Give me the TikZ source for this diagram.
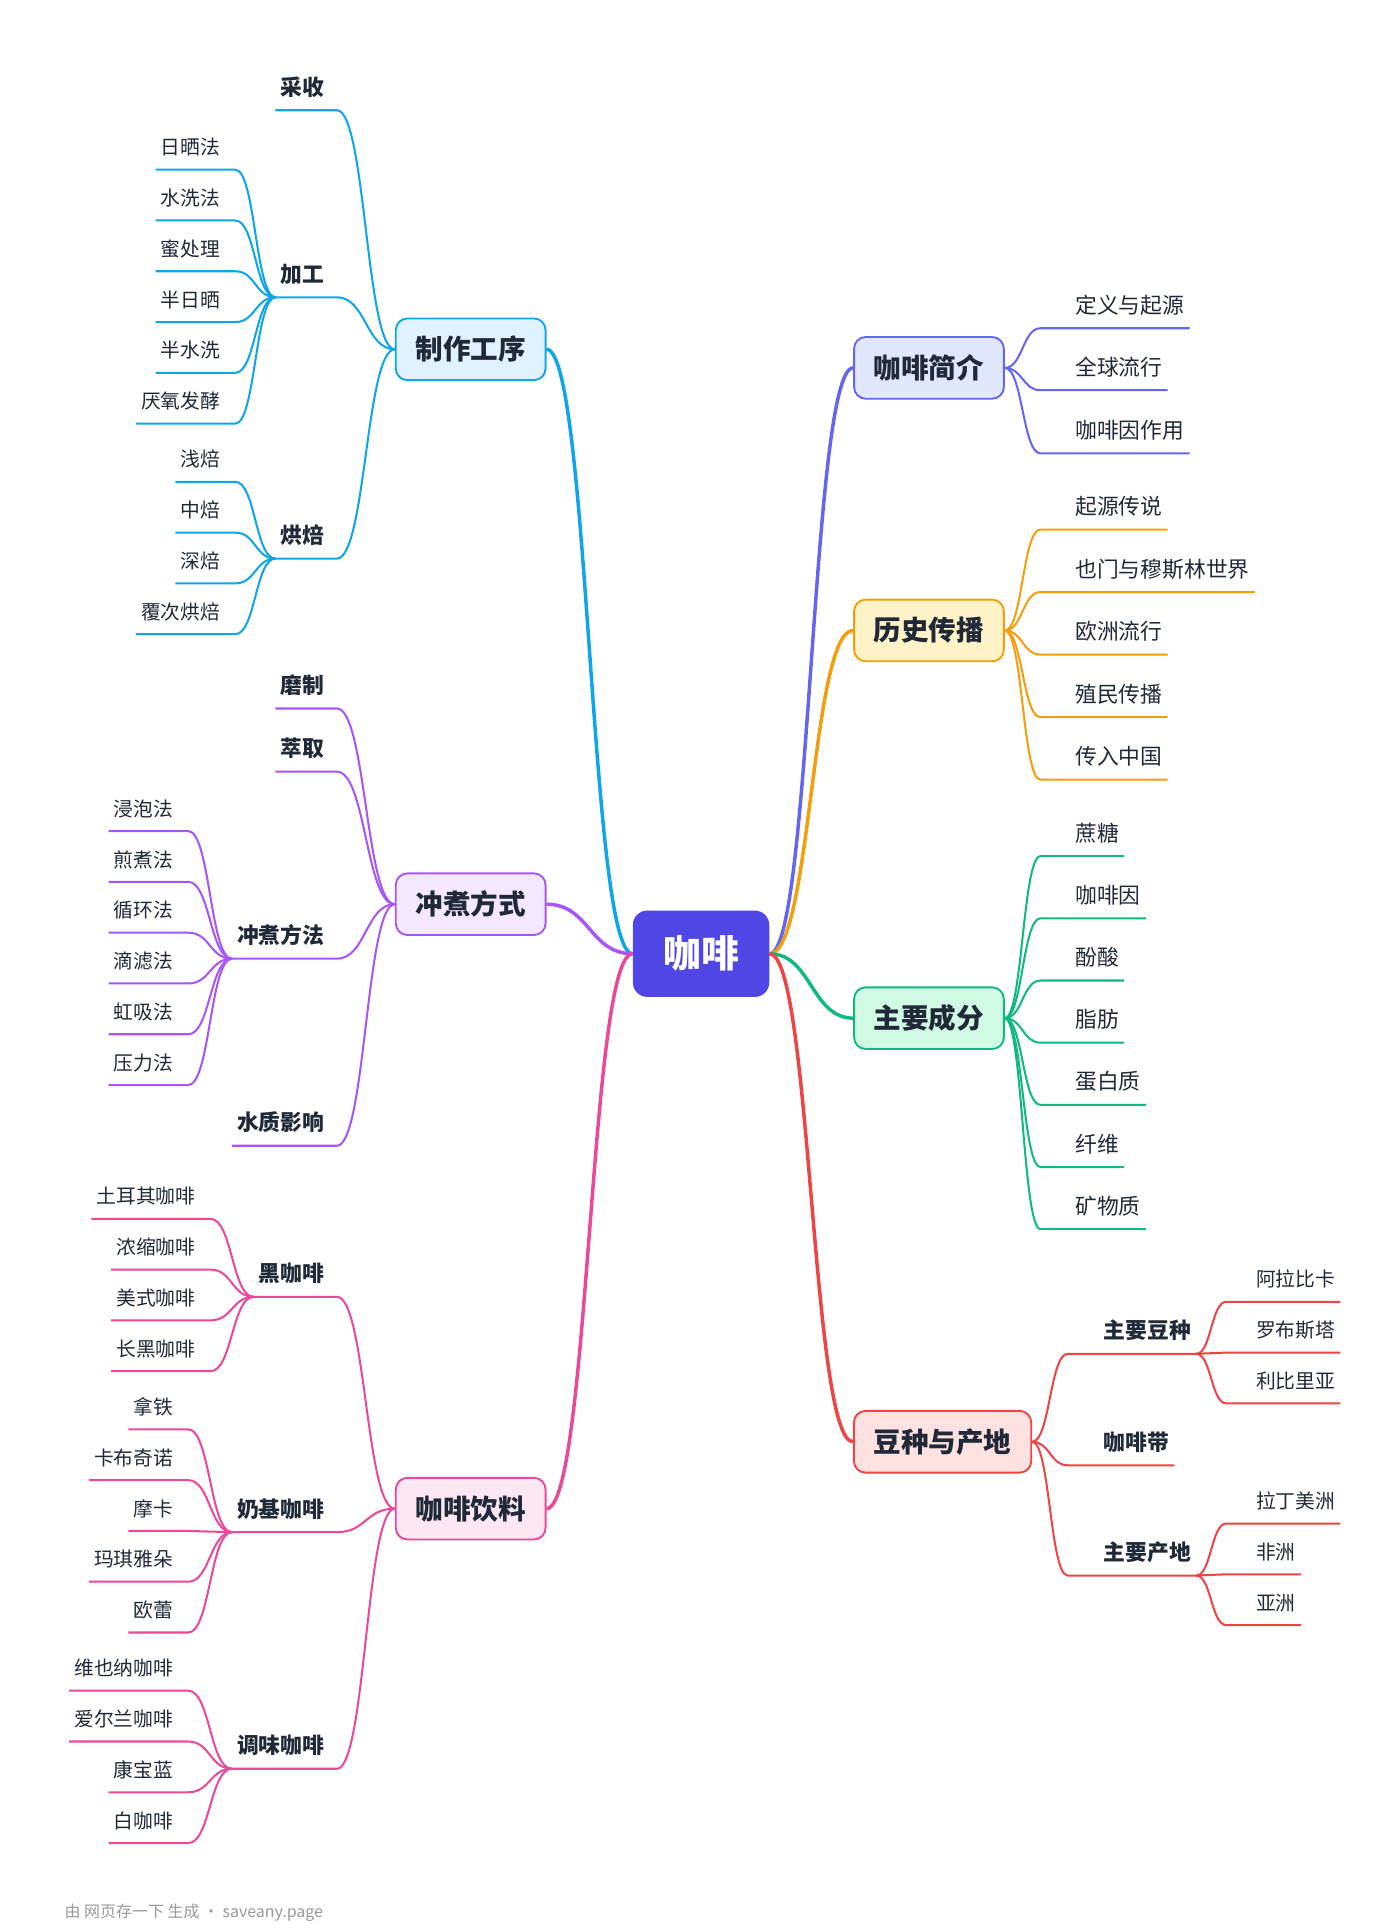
\documentclass[tikz,border=0pt]{standalone}
\usepackage{fontspec}
\setmainfont{Noto Sans CJK SC}
\usetikzlibrary{calc,positioning}

\definecolor{cCore}{HTML}{4F46E5}
\definecolor{cMake}{HTML}{0EA5E9}\definecolor{fMake}{HTML}{E0F2FE}
\definecolor{cBrew}{HTML}{A855F7}\definecolor{fBrew}{HTML}{F3E8FF}
\definecolor{cDrink}{HTML}{EC4899}\definecolor{fDrink}{HTML}{FCE7F3}
\definecolor{cIntro}{HTML}{6366F1}\definecolor{fIntro}{HTML}{E0E7FF}
\definecolor{cHist}{HTML}{F59E0B}\definecolor{fHist}{HTML}{FEF3C7}
\definecolor{cPart}{HTML}{10B981}\definecolor{fPart}{HTML}{D1FAE5}
\definecolor{cBean}{HTML}{EF4444}\definecolor{fBean}{HTML}{FEE2E2}
\definecolor{txt}{HTML}{1F2937}

\tikzset{
	mm/.style={to path={.. controls ($(\tikztostart)!0.5!(\tikztotarget|-\tikztostart)$) and ($(\tikztotarget)!0.5!(\tikztostart|-\tikztotarget)$) .. (\tikztotarget)}},
	br/.style={line width=1.4pt},
	main/.style={shape=rectangle,rounded corners=8pt,line width=1.3pt,inner xsep=13.6pt,minimum height=42.5pt,font=\fontsize{19}{22}\selectfont\bfseries,text=txt},
	sub/.style={inner sep=0pt,font=\fontsize{15}{18}\selectfont\bfseries,text=txt},
	leafb/.style={inner sep=0pt,font=\fontsize{15}{18}\selectfont,text=txt},
	leaf/.style={inner sep=0pt,font=\fontsize{13.6}{16}\selectfont,text=txt}
}
% name, from, curve end, pad, text, style
\newcommand\leafR[6]{%
	\coordinate (#1a) at #3;
	\node[#6,anchor=base west] (#1) at ($(#1a)+(#4,-12)$) {#5};
	\coordinate (#1e) at ($(#1.base east)+(4,12)$);
	\draw[br] #2 to[mm] (#1a) -- (#1e);}
\newcommand\leafL[6]{%
	\coordinate (#1a) at #3;
	\node[#6,anchor=base east] (#1) at ($(#1a)+(-#4,-12)$) {#5};
	\coordinate (#1e) at ($(#1.base west)+(-4,12)$);
	\draw[br] #2 to[mm] (#1a) -- (#1e);}

\begin{document}
\begin{tikzpicture}[x=0.03cm,y=-0.03cm]
	\useasboundingbox (0,0) rectangle (1130,1559);
	% core and main branches
	\node[shape=rectangle,rounded corners=10pt,fill=cCore,text=white,inner xsep=21pt,minimum height=59.5pt,font=\fontsize{26}{30}\selectfont\bfseries](C) at (566,770) {咖啡};
	\node[main,draw=cMake,fill=fMake](MK) at (380,282) {制作工序};
	\node[main,draw=cBrew,fill=fBrew](BW) at (380,730) {冲煮方式};
	\node[main,draw=cDrink,fill=fDrink](DK) at (380,1218) {咖啡饮料};
	\node[main,draw=cIntro,fill=fIntro](IN) at (750,297) {咖啡简介};
	\node[main,draw=cHist,fill=fHist](HS) at (750,509) {历史传播};
	\node[main,draw=cPart,fill=fPart](PT) at (750,822) {主要成分};
	\node[main,draw=cBean,fill=fBean](BN) at (761,1164) {豆种与产地};
	\draw[line width=2.4pt,cMake](C.west) to[mm] (MK.east);
	\draw[line width=2.4pt,cBrew](C.west) to[mm] (BW.east);
	\draw[line width=2.4pt,cDrink](C.west) to[mm] (DK.east);
	\draw[line width=2.4pt,cIntro](C.east) to[mm] (IN.west);
	\draw[line width=2.4pt,cHist](C.east) to[mm] (HS.west);
	\draw[line width=2.4pt,cPart](C.east) to[mm] (PT.west);
	\draw[line width=2.4pt,cBean](C.east) to[mm] (BN.west);

	% right side
	\begin{scope}[cIntro]
		\leafR{i1}{(IN.east)}{(840,265)}{28}{定义与起源}{leafb}
		\leafR{i2}{(IN.east)}{(840,315)}{28}{全球流行}{leafb}
		\leafR{i3}{(IN.east)}{(840,366)}{28}{咖啡因作用}{leafb}
	\end{scope}
	\begin{scope}[cHist]
		\foreach \t [count=\i] in {起源传说,也门与穆斯林世界,欧洲流行,殖民传播,传入中国}
			{\leafR{h\i}{(HS.east)}{(840,{377+50.5*\i})}{28}{\t}{leafb}}
	\end{scope}
	\begin{scope}[cPart]
		\foreach \t [count=\i] in {蔗糖,咖啡因,酚酸,脂肪,蛋白质,纤维,矿物质}
			{\leafR{p\i}{(PT.east)}{(840,{641+50.2*\i})}{28}{\t}{leafb}}
	\end{scope}
	\begin{scope}[cBean]
		\leafR{b1}{(BN.east)}{(862,1093)}{29}{主要豆种}{sub}
		\leafR{b2}{(BN.east)}{(862,1183)}{29}{咖啡带}{sub}
		\leafR{b3}{(BN.east)}{(862,1272)}{29}{主要产地}{sub}
		\foreach \t [count=\i] in {阿拉比卡,罗布斯塔,利比里亚}
			{\leafR{b1\i}{(b1e)}{(990,{1010+41*\i})}{24}{\t}{leaf}}
		\foreach \t [count=\i] in {拉丁美洲,非洲,亚洲}
			{\leafR{b3\i}{(b3e)}{(990,{1189+41*\i})}{24}{\t}{leaf}}
	\end{scope}

	% left side
	\begin{scope}[cMake]
		\leafL{m1}{(MK.west)}{(272,89)}{10}{采收}{sub}
		\leafL{m2}{(MK.west)}{(272,240)}{10}{加工}{sub}
		\leafL{m3}{(MK.west)}{(272,451)}{10}{烘焙}{sub}
		\foreach \t [count=\i] in {日晒法,水洗法,蜜处理,半日晒,半水洗,厌氧发酵}
			{\leafL{m2\i}{(m2e)}{(190,{96+41*\i})}{12}{\t}{leaf}}
		\foreach \t [count=\i] in {浅焙,中焙,深焙,覆次烘焙}
			{\leafL{m3\i}{(m3e)}{(190,{348+41*\i})}{12}{\t}{leaf}}
	\end{scope}
	\begin{scope}[cBrew]
		\leafL{w1}{(BW.west)}{(272,572)}{10}{磨制}{sub}
		\leafL{w2}{(BW.west)}{(272,623)}{10}{萃取}{sub}
		\leafL{w3}{(BW.west)}{(272,774)}{10}{冲煮方法}{sub}
		\leafL{w4}{(BW.west)}{(272,925)}{10}{水质影响}{sub}
		\foreach \t [count=\i] in {浸泡法,煎煮法,循环法,滴滤法,虹吸法,压力法}
			{\leafL{w3\i}{(w3e)}{(152,{630+41*\i})}{12}{\t}{leaf}}
	\end{scope}
	\begin{scope}[cDrink]
		\leafL{d1}{(DK.west)}{(272,1047)}{10}{黑咖啡}{sub}
		\leafL{d2}{(DK.west)}{(272,1237)}{10}{奶基咖啡}{sub}
		\leafL{d3}{(DK.west)}{(272,1428)}{10}{调味咖啡}{sub}
		\foreach \t [count=\i] in {土耳其咖啡,浓缩咖啡,美式咖啡,长黑咖啡}
			{\leafL{d1\i}{(d1e)}{(170,{943+41*\i})}{12}{\t}{leaf}}
		\foreach \t [count=\i] in {拿铁,卡布奇诺,摩卡,玛琪雅朵,欧蕾}
			{\leafL{d2\i}{(d2e)}{(152,{1113+41*\i})}{12}{\t}{leaf}}
		\foreach \t [count=\i] in {维也纳咖啡,爱尔兰咖啡,康宝蓝,白咖啡}
			{\leafL{d3\i}{(d3e)}{(152,{1324+41*\i})}{12}{\t}{leaf}}
	\end{scope}

	\node[anchor=west,inner sep=0pt,text=gray!80,font=\fontsize{11}{13}\selectfont](foot) at (52,1544) {由 网页存一下 生成 · saveany.page};
\end{tikzpicture}
\end{document}
